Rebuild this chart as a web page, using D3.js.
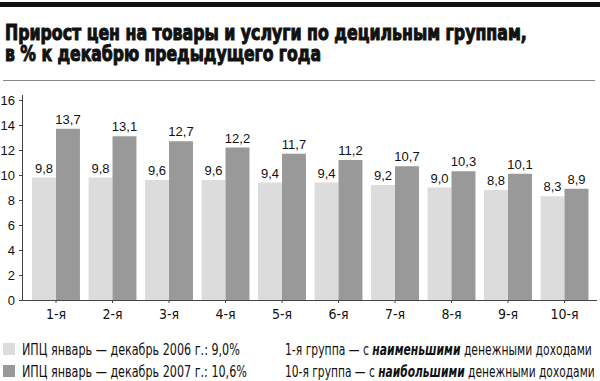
<!DOCTYPE html>
<html>
<head>
<meta charset="utf-8">
<script src="https://cdnjs.cloudflare.com/ajax/libs/d3/7.8.5/d3.min.js"></script>
<style>
  body { margin: 0; background: #fff; }
  svg { display: block; }
  .axis text { font-family: "Liberation Sans", Arial, sans-serif; font-size: 13px; fill: #111; }
  .axis path, .axis line { stroke: #444; }
</style>
</head>
<body>
<div id="chart"></div>
<script>
(function () {

  var groups = ["1-я", "2-я", "3-я", "4-я", "5-я", "6-я", "7-я", "8-я", "9-я", "10-я"]
  var series = ["2006", "2007"]
  var values2006 = [9.8, 9.8, 9.6, 9.6, 9.4, 9.4, 9.2, 9.0, 8.8, 8.3]
  var values2007 = [13.7, 13.1, 12.7, 12.2, 11.7, 11.2, 10.7, 10.3, 10.1, 8.9]
  var yTicks = [0, 2, 4, 6, 8, 10, 12, 14, 16]
  var legendLabels = ["ИПЦ январь — декабрь 2006 г.: 9,0%", "ИПЦ январь — декабрь 2007 г.: 10,6%"]
  var colors = ["#dcdcdc", "#999999"]

  var width = 600,
      height = 381

  var narrow = "'DejaVu Sans Condensed', 'Liberation Sans Narrow', sans-serif"

  var svg = d3.select("#chart").append("svg")
      .attr("width", width)
      .attr("height", height)

  // squeeze a text horizontally so it spans the wanted width
  function fitWidth(sel, x, y, w) {
    sel.each(function() {
      var tw = this.getComputedTextLength()
      d3.select(this)
        .attr("x", 0).attr("y", 0)
        .attr("transform", "translate(" + x + "," + y + ") scale(" + (w / tw) + ",1)")
    })
  }

  // header
  svg.append("rect")
    .attr("x", 0).attr("y", 2)
    .attr("width", width).attr("height", 5)
    .attr("fill", "#111")

  var titleLines = [
    { text: "Прирост цен на товары и услуги по децильным группам,", y: 39.5, len: 522 },
    { text: "в % к декабрю предыдущего года", y: 60.5, len: 316 }
  ]
  svg.selectAll(".title")
    .data(titleLines)
    .enter().append("text")
    .attr("class", "title")
    .style("font-family", narrow)
    .style("font-weight", "bold")
    .style("font-size", "21px")
    .attr("fill", "#111")
    .attr("stroke", "#111")
    .attr("stroke-width", 1)
    .attr("paint-order", "stroke")
    .text(function(d) { return d.text })
    .each(function(d) { fitWidth(d3.select(this), 5, d.y, d.len) })

  svg.append("line")
    .attr("x1", 3).attr("x2", 595)
    .attr("y1", 80.5).attr("y2", 80.5)
    .attr("stroke", "#888")
    .attr("stroke-width", 1)

  // scales
  var xScale = d3.scaleBand()
    .domain(groups)
    .range([27.75, 592.75])
    .paddingInner(0)
    .paddingOuter(0)

  var xInner = d3.scaleBand()
    .domain(series)
    .range([0, xScale.bandwidth()])
    .paddingInner(0)
    .paddingOuter(0.18)

  var yScale = d3.scaleLinear()
    .domain([0, 16])
    .range([300, 100])

  var data = groups.map(function(g, i) {
    return { group: g, vals: [values2006[i], values2007[i]] }
  })

  var g = svg.selectAll(".group")
    .data(data)
    .enter().append("g")
    .attr("class", "group")
    .attr("transform", function(d) { return "translate(" + xScale(d.group) + ",0)" })

  g.selectAll("rect")
    .data(function(d) { return d.vals.map(function(v, j) { return { s: series[j], v: v, j: j } }) })
    .enter().append("rect")
    .attr("x", function(d) { return xInner(d.s) })
    .attr("width", xInner.bandwidth())
    .attr("y", function(d) { return yScale(d.v) })
    .attr("height", function(d) { return yScale(0) - yScale(d.v) })
    .attr("fill", function(d) { return colors[d.j] })

  g.selectAll(".val")
    .data(function(d) { return d.vals.map(function(v, j) { return { s: series[j], v: v } }) })
    .enter().append("text")
    .attr("class", "val")
    .attr("x", function(d) { return xInner(d.s) + xInner.bandwidth() / 2 })
    .attr("y", function(d) { return yScale(d.v) - 5 })
    .attr("text-anchor", "middle")
    .style("font-family", "'Liberation Sans', Arial, sans-serif")
    .style("font-size", "13px")
    .attr("fill", "#111")
    .text(function(d) { return d3.format(".1f")(d.v).replace(".", ",") })

  // axes
  var yAxis = d3.axisLeft(yScale)
    .tickValues(yTicks)
    .tickSize(3)
    .tickSizeOuter(0)
    .tickPadding(4)
  svg.append("g")
    .attr("class", "axis y-axis")
    .attr("transform", "translate(22,0)")
    .call(yAxis)
    .call(function(a) { a.select(".domain").remove() })

  svg.append("line")
    .attr("x1", 22.5).attr("x2", 22.5)
    .attr("y1", 95).attr("y2", 300)
    .attr("stroke", "#444")

  var xAxis = d3.axisBottom(xScale)
    .tickSize(3)
    .tickSizeOuter(0)
    .tickPadding(6)
  svg.append("g")
    .attr("class", "axis x-axis")
    .attr("transform", "translate(0,300)")
    .call(xAxis)
    .call(function(a) { a.select(".domain").remove() })
    .selectAll("text")
    .style("font-family", narrow)
    .style("font-size", "14px")

  svg.append("line")
    .attr("x1", 22).attr("x2", 597)
    .attr("y1", 300.5).attr("y2", 300.5)
    .attr("stroke", "#444")

  // legend
  var legendWidths = [218, 225]
  var legend = svg.selectAll(".legend")
    .data(legendLabels)
    .enter().append("g")
    .attr("class", "legend")
    .attr("transform", function(d, i) { return "translate(3," + (343 + i * 22) + ")" })

  legend.append("rect")
    .attr("width", 12).attr("height", 12)
    .attr("fill", function(d, i) { return colors[i] })

  legend.append("text")
    .style("font-family", narrow)
    .style("font-size", "15px")
    .attr("fill", "#111")
    .text(function(d) { return d })
    .each(function(d, i) { fitWidth(d3.select(this), 19, 12, legendWidths[i]) })

  var notes = [
    { a: "1-я группа — с ", b: "наименьшими", c: " денежными доходами", w: 307 },
    { a: "10-я группа — с ", b: "наибольшими", c: " денежными доходами", w: 310 }
  ]
  var nt = svg.selectAll(".note")
    .data(notes)
    .enter().append("text")
    .attr("class", "note")
    .style("font-family", narrow)
    .style("font-size", "15px")
    .attr("fill", "#111")
  nt.append("tspan").text(function(d) { return d.a })
  nt.append("tspan")
    .style("font-weight", "bold")
    .style("font-style", "italic")
    .text(function(d) { return d.b })
  nt.append("tspan").text(function(d) { return d.c })
  nt.each(function(d, i) { fitWidth(d3.select(this), 285, 355 + i * 22, d.w) })

})()
</script>
</body>
</html>
